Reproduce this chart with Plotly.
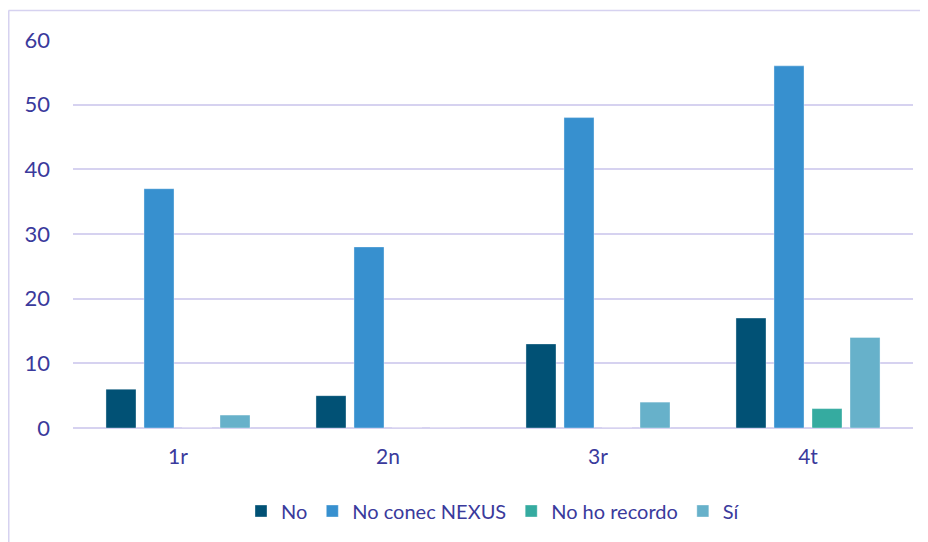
import plotly.graph_objects as go

categories = ["1r", "2n", "3r", "4t"]
series_names = ["No", "No conec NEXUS", "No ho recordo", "Sí"]
no_vals = [6, 5, 13, 17]
nexus_vals = [37, 28, 48, 56]
recordo_vals = [0, 0, 0, 3]
si_vals = [2, 0, 4, 14]
colors = ["#015175", "#3790CF", "#35ABA0", "#67B1CA"]
y_ticks = [0, 10, 20, 30, 40, 50, 60]

text_color = "#3A3A9C"
grid_color = "#D6D2F0"
font_family = "Lato, 'Open Sans', sans-serif"

fig = go.Figure()
for name, vals, col in zip(series_names, [no_vals, nexus_vals, recordo_vals, si_vals], colors):
    fig.add_trace(go.Bar(
        name=name, x=categories, y=vals,
        marker=dict(color=col, line=dict(color="rgba(255,255,255,0.35)", width=1)),
    ))

# page has an 8px body margin: figure drawn at (8, 8)
W, H = 920, 534
L, R, T, B = 65, 15, 32, 114
pw = W - L - R
ph = H - T - B

def px_to_paper_x(px):
    return (px - L) / pw

def px_to_paper_y(py):
    return (H - B - py) / ph

fig.update_layout(
    width=W, height=H,
    margin=dict(l=L, r=R, t=T, b=B),
    paper_bgcolor="white", plot_bgcolor="white",
    barmode="group", bargap=0.276, bargroupgap=0.21,
    font=dict(family=font_family, size=20, color=text_color),
    xaxis=dict(showgrid=False, showline=False, ticks="", ticklabelstandoff=14,
               tickfont=dict(size=21, color=text_color)),
    yaxis=dict(range=[0, 60], tickvals=y_ticks, showgrid=True, gridcolor=grid_color, gridwidth=1.5,
               zeroline=True, zerolinecolor=grid_color, zerolinewidth=2,
               ticks="", ticklabelstandoff=22, tickfont=dict(size=22, color=text_color)),
    legend=dict(orientation="h", x=0.5, xanchor="center", y=px_to_paper_y(503), yanchor="middle",
                font=dict(size=20, color=text_color), itemwidth=30, traceorder="normal"),
    showlegend=True,
    shapes=[
        dict(type="line", xref="paper", yref="paper",
             x0=px_to_paper_x(0.5), x1=px_to_paper_x(W), y0=px_to_paper_y(2.5), y1=px_to_paper_y(2.5),
             line=dict(color=grid_color, width=1.5)),
        dict(type="line", xref="paper", yref="paper",
             x0=px_to_paper_x(0.75), x1=px_to_paper_x(0.75), y0=px_to_paper_y(2.5), y1=px_to_paper_y(H),
             line=dict(color=grid_color, width=1.5)),
    ],
)

fig.write_html("out.html", config={"displayModeBar": False})
